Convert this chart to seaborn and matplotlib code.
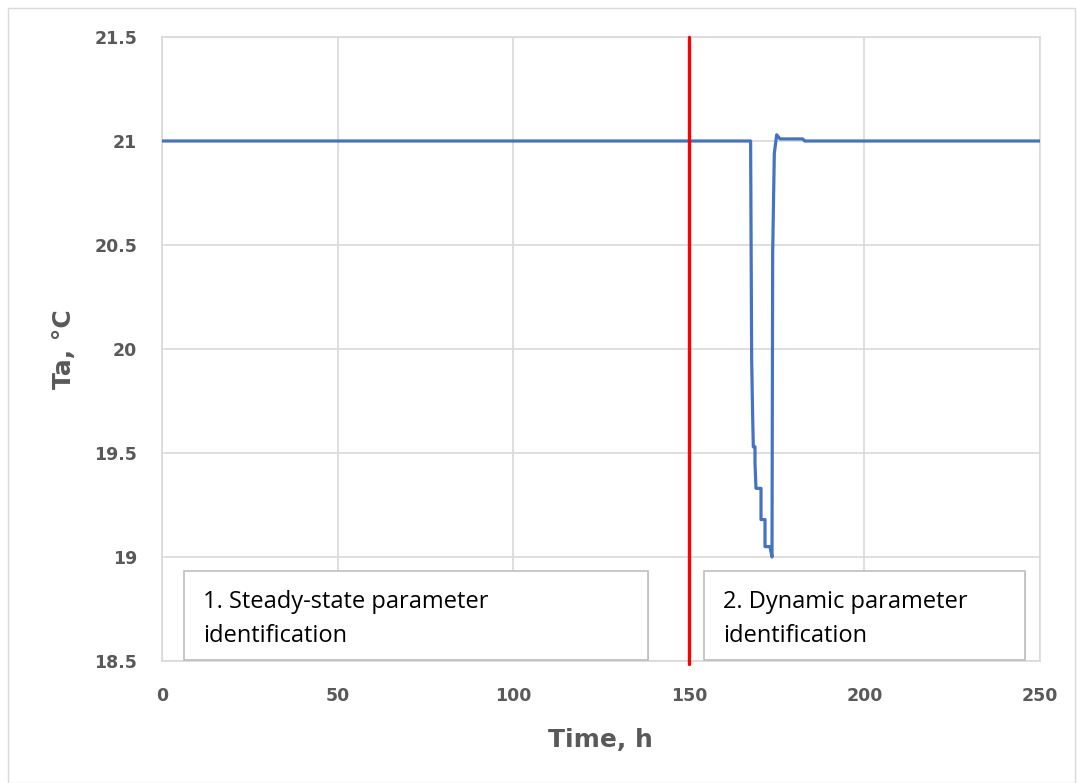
import matplotlib
matplotlib.use("Agg")
import matplotlib.pyplot as plt
import seaborn as sns
import pandas as pd
from matplotlib.patches import Rectangle

# ---- data ----
time_h = [0, 167.6, 167.9, 168.2, 168.37, 168.85, 168.85, 169.13, 170.56, 170.56,
          171.70, 171.70, 173.12, 173.69, 173.88, 174.35, 175.02, 175.97, 182.42,
          183.0, 250]
ta_c = [21.0, 21.0, 19.95, 19.66, 19.53, 19.53, 19.45, 19.33, 19.33, 19.18,
        19.18, 19.05, 19.05, 19.0, 20.46, 20.94, 21.03, 21.01, 21.01,
        21.0, 21.0]
split_time = 150
x_ticks = [0, 50, 100, 150, 200, 250]
y_ticks = [18.5, 19, 19.5, 20, 20.5, 21, 21.5]
box1_lines = ["1. Steady-state parameter", "identification"]
box2_lines = ["2. Dynamic parameter", "identification"]

df = pd.DataFrame({"Time": time_h, "Ta": ta_c})

sns.set_style("white")
plt.rcParams['font.family'] = ['DejaVu Sans']

fig = plt.figure(figsize=(10.78, 7.83), dpi=100)
ax = fig.add_axes([162/1078, 1-661/783, (1040-162)/1078, (661-37)/783])

grid_c = "#d9d9d9"
ax.set_xlim(0, 250)
ax.set_ylim(18.5, 21.5)
ax.set_xticks(x_ticks)
ax.set_yticks(y_ticks)
ax.set_xticklabels([str(v) for v in x_ticks])
ax.set_yticklabels([f"{v:g}" for v in y_ticks])
ax.grid(True, color=grid_c, lw=1.2)
ax.set_axisbelow(True)
for s in ax.spines.values():
    s.set_color(grid_c)
    s.set_linewidth(1.2)
ax.tick_params(length=0, labelsize=12.5, labelcolor="#595959")
ax.tick_params(axis="y", pad=18)
ax.tick_params(axis="x", pad=19)
for lab in ax.get_xticklabels() + ax.get_yticklabels():
    lab.set_fontweight("bold")

sns.lineplot(data=df, x="Time", y="Ta", ax=ax, sort=False, estimator=None,
             color="#4472C4", lw=2.3, zorder=3)

ax.axvline(split_time, color="#FF0000", lw=2.4, zorder=4, ymin=-0.005, clip_on=False)

ax.set_xlabel("Time, h", fontsize=18, fontweight="bold", color="#595959", va="center")
ax.set_ylabel("Ta, °C", fontsize=18, fontweight="bold", color="#595959", va="center")
ax.xaxis.set_label_coords((600-162)/878, (661-740)/624)
ax.yaxis.set_label_coords((64-162)/878, 0.5)

# text boxes
def add_box(x0, x1, lines, tx):
    y0, y1 = 18.505, 18.933
    shadow = Rectangle((x0 + 0.4, y0 - 0.008), x1 - x0, y1 - y0, facecolor="#d0d0d0",
                       edgecolor="none", zorder=5)
    ax.add_patch(shadow)
    r = Rectangle((x0, y0), x1 - x0, y1 - y0, facecolor="white",
                  edgecolor="#bfbfbf", lw=1.2, zorder=6)
    ax.add_patch(r)
    for yb, txt in zip([18.755, 18.591], lines):
        ax.text(tx, yb, txt, fontsize=17, family=["Open Sans", "DejaVu Sans"],
                color="#000000", va="baseline", ha="left", zorder=7)

add_box(6.3, 138.4, box1_lines, 11.7)
add_box(154.3, 245.7, box2_lines, 159.7)

# outer frame
fig.patches.append(Rectangle((8/1078, 0), 1 - 8/1078 - 3/1078, 1 - 8/783,
                             transform=fig.transFigure, fill=False,
                             edgecolor="#d9d9d9", lw=1.0))

fig.savefig("out.png", dpi=100)
